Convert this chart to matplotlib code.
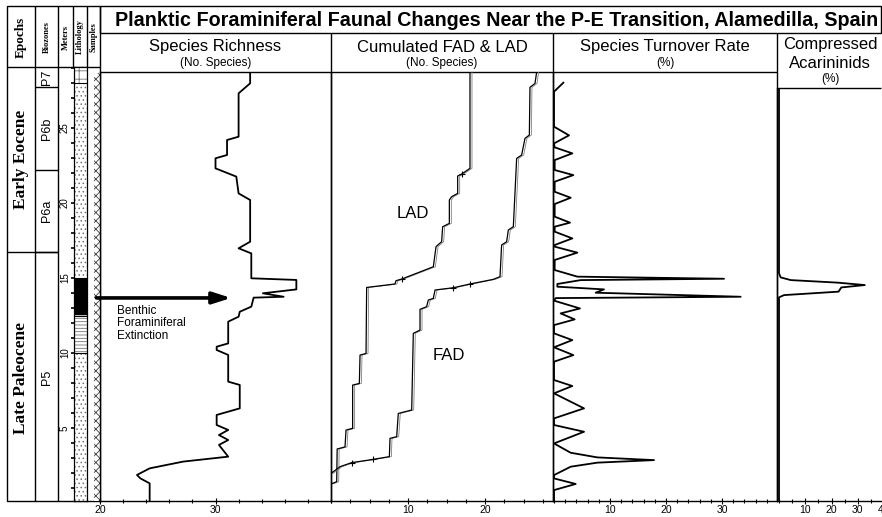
import matplotlib.pyplot as plt
import matplotlib.transforms as mtransforms
from matplotlib.patches import Rectangle
from matplotlib.ticker import MultipleLocator, FixedLocator

plt.rcParams['font.family'] = ['Liberation Sans', 'DejaVu Sans']
plt.rcParams['hatch.linewidth'] = 0.6

W, H = 882, 517

# ---------------- data (depth in meters) ----------------
title = "Planktic Foraminiferal Faunal Changes Near the P-E Transition, Alamedilla, Spain"

epochs = ["Late Paleocene", "Early Eocene"]
epoch_base = [0.0, 16.7]
epoch_top = [16.7, 29.07]

biozones = ["P5", "P6a", "P6b", "P7"]
zone_base = [0.0, 16.7, 22.2, 27.7]
zone_top = [16.7, 22.2, 27.7, 29.07]

litho_base = [0.0, 10.0, 12.5, 15.0, 28.0]
litho_top = [10.0, 12.5, 15.0, 28.0, 29.07]
litho_hatch = ["....", "-----", None, "....", "++"]
litho_fill = ["white", "white", "black", "white", "white"]

# species richness
sr_depth = [28.73, 27.98, 27.31, 24.42, 24.2, 23.2, 22.98, 22.31, 21.76, 20.64, 20.2,
            17.42, 16.98, 16.64, 14.98, 14.87, 14.24, 13.98, 13.75, 13.69, 13.09, 12.75,
            12.42, 12.09, 10.64, 10.42, 10.2, 9.87, 8.09, 7.87, 6.31, 5.87, 5.2, 4.87,
            4.53, 4.2, 3.87, 3.09, 2.76, 2.31, 1.87, 1.64, 1.31, 0.13]
sr_count = [33.0, 33.0, 32.0, 32.0, 31.0, 31.0, 30.0, 30.0, 31.8, 32.0, 33.0,
            33.0, 32.0, 33.1, 33.1, 37.0, 37.0, 34.1, 35.9, 33.3, 33.1, 32.1,
            32.0, 31.1, 31.1, 30.1, 30.1, 31.1, 31.1, 32.1, 32.1, 30.1, 30.1, 31.1,
            30.3, 31.1, 30.3, 31.1, 27.2, 24.3, 23.2, 23.5, 24.3, 24.3]

# cumulated last / first appearances
lad_depth = [28.73, 22.31, 21.93, 21.8, 20.64, 20.42, 20.2, 18.64, 18.42, 17.42, 17.09,
             15.75, 14.93, 14.82, 14.6, 14.37, 9.97, 9.86, 7.97, 7.86, 4.98, 4.86,
             3.74, 3.6, 1.42, 1.27]
lad_n = [18.05, 18.05, 16.97, 16.45, 16.45, 15.67, 15.37, 15.37, 14.5, 14.37, 13.64,
         13.29, 9.18, 8.44, 8.31, 4.63, 4.55, 3.77, 3.68, 2.81, 2.81, 1.95,
         1.82, 0.8, 0.74, 0.0]
lad_marks = [2, 12]

fad_depth = [28.73, 27.97, 27.71, 24.53, 24.31, 23.2, 22.97, 18.42, 18.2, 17.42, 17.2,
             15.09, 14.91, 14.6, 14.35, 14.2, 13.64, 13.53, 13.09, 12.91, 11.53, 11.31,
             6.2, 5.97, 4.42, 4.31, 3.09, 2.91, 2.69, 2.42, 1.97]
fad_n = [26.71, 26.49, 25.84, 25.76, 25.19, 24.76, 24.11, 23.68, 23.03, 22.81, 22.16,
         21.95, 21.08, 18.05, 15.89, 13.51, 13.29, 12.64, 12.42, 11.56, 11.56, 10.69,
         10.48, 8.74, 8.53, 7.66, 7.58, 5.5, 2.68, 1.17, 0.0]
fad_marks = [13, 14, 27, 28]

# species turnover rate (%)
to_depth = [28.02, 27.42, 25.09, 24.51, 23.97, 23.71, 23.31, 22.86, 22.2, 21.86,
            21.42, 20.75, 20.35, 19.93, 19.09, 18.69, 18.42, 18.09, 17.64, 17.2,
            17.09, 16.69, 16.2, 15.53, 15.09, 14.95, 14.86, 14.6, 14.42, 14.24,
            14.02, 13.75, 13.66, 13.49, 12.97, 12.64, 12.24, 11.86, 11.31, 10.86,
            10.38, 9.86, 9.42, 8.2, 7.8, 7.31, 6.31, 5.64, 5.2, 4.75,
            3.97, 3.35, 3.04, 2.86, 2.69, 2.42, 1.86, 1.64, 1.27, 0.86, 0.13]
to_pct = [1.67, 0, 0, 2.68, 0, 0.12, 3.27, 0.12, 0.12, 3.45,
          0.12, 0.12, 2.98, 0.12, 0.12, 2.86, 0.12, 0.12, 3.27, 0.12,
          0.12, 4.17, 0.12, 0.12, 4.17, 30.36, 4.76, 0.6, 0.6, 8.93,
          7.44, 33.33, 0.3, 0, 4.64, 1.19, 3.69, 0, 0, 3.27,
          0, 3.45, 0, 0, 3.27, 0, 5.36, 0, 0, 5.36,
          0, 2.98, 7.74, 17.86, 7.74, 2.98, 0, 0, 3.87, 0, 0]

# compressed acarininids (%)
ac_depth = [27.67, 15.31, 15.04, 14.86, 14.69, 14.53, 14.37, 14.09, 13.86, 13.71, 0.13]
ac_pct = [0, 0, 0.64, 4.49, 22.44, 32.69, 23.72, 22.69, 1.92, 0, 0]

bfe_depth = 13.67   # benthic foraminiferal extinction level


# ---------------- layout helpers ----------------
def box(x0, y0, x1, y1):
    return [x0 / W, 1 - y1 / H, (x1 - x0) / W, (y1 - y0) / H]


def depth(y):
    return (503 - y) / 15.0


fig = plt.figure(figsize=(W / 100, H / 100), dpi=100)

bg = fig.add_axes([0, 0, 1, 1])
bg.set_xlim(0, W)
bg.set_ylim(H, 0)
bg.axis('off')
lk = dict(color='k', lw=1.0, solid_capstyle='butt')

# title box
bg.plot([100, 881, 881, 100, 100], [6, 6, 33, 33, 6], **lk)
bg.text(497, 20, title, ha='center', va='center', fontsize=14.2, fontweight='bold')
# panel header row
bg.plot([100, 777], [72, 72], **lk)
bg.plot([777, 881], [88, 88], **lk)
for x in (331, 553, 777):
    bg.plot([x, x], [33, 501], **lk)
bg.text(215.5, 47, "Species Richness", ha='center', va='center', fontsize=12)
bg.text(215.5, 63, "(No. Species)", ha='center', va='center', fontsize=8.5)
bg.text(442, 47, "Cumulated FAD & LAD", ha='center', va='center', fontsize=12)
bg.text(442, 63, "(No. Species)", ha='center', va='center', fontsize=8.5)
bg.text(665, 47, "Species Turnover Rate", ha='center', va='center', fontsize=12)
bg.text(665, 63, "(%)", ha='center', va='center', fontsize=8.5)
bg.text(830, 45, "Compressed", ha='center', va='center', fontsize=12)
bg.text(830, 63, "Acarininids", ha='center', va='center', fontsize=12)
bg.text(830, 79, "(%)", ha='center', va='center', fontsize=8.5)

# left table frame
bg.plot([7, 100, 100, 7, 7], [6, 6, 501, 501, 6], **lk)
bg.plot([7, 100], [67, 67], **lk)
for x in (35, 58):
    bg.plot([x, x], [6, 501], **lk)
for x in (73, 87):
    bg.plot([x, x], [6, 67], **lk)
serif = ['Liberation Serif', 'DejaVu Serif']
bg.text(21, 37, "Epochs", rotation=90, ha='center', va='center', fontsize=9.5,
        fontweight='bold', family=serif)
for x, lab in [(46.5, "Biozones"), (65.5, "Meters"), (80, "Lithology"), (93.5, "Samples")]:
    bg.text(x, 37, lab, rotation=90, ha='center', va='center', fontsize=6,
            fontweight='bold', family=serif)

# epochs / biozones column
left = fig.add_axes(box(0, 67, 100, 501))
left.set_facecolor('none')
left.axis('off')
left.set_xlim(0, 100)
left.set_ylim(depth(501), depth(67))
left.hlines(epoch_base[1:], 7, 58, color='k', lw=1.0)
left.hlines(zone_base[1:], 35, 58, color='k', lw=1.0)
for name, b, t in zip(epochs, epoch_base, epoch_top):
    left.text(21, (b + t) / 2, name, rotation=90, ha='center', va='center',
              fontsize=12.5, fontweight='bold', family=serif)
for name, b, t in zip(biozones, zone_base, zone_top):
    left.text(47, (b + t) / 2, name, rotation=90, ha='center', va='center', fontsize=9)
left.add_patch(Rectangle((94, depth(501)), 6, depth(73) - depth(501), facecolor='white',
                         edgecolor='0.25', hatch='xxxx', lw=0))

# lithology column with meter scale
lith = fig.add_axes(box(74, 67, 87, 501))
lith.set_xlim(0, 1)
lith.set_ylim(depth(501), depth(67))
for b, t, h, fc in zip(litho_base, litho_top, litho_hatch, litho_fill):
    lith.add_patch(Rectangle((0, b), 1, t - b, facecolor=fc, edgecolor='0.45',
                             hatch=h, lw=0))
lith.hlines(litho_base[1:], 0, 1, color='k', lw=0.8)
lith.set_xticks([])
lith.yaxis.set_major_locator(FixedLocator([5, 10, 15, 20, 25]))
lith.yaxis.set_minor_locator(MultipleLocator(1))
lith.tick_params(axis='y', which='both', direction='out', length=2, width=1.2, labelsize=7, pad=1)
for lab in lith.get_yticklabels():
    lab.set_rotation(90)
    lab.set_va('center')
for s in lith.spines.values():
    s.set_linewidth(0.9)


# ---------------- data panels ----------------
def panel(x0, x1, y0, xlim, major, minor):
    ax = fig.add_axes(box(x0, y0, x1, 501))
    ax.set_facecolor('none')
    for s in ('top', 'right'):
        ax.spines[s].set_visible(False)
    ax.spines['left'].set_linewidth(1.0)
    ax.spines['bottom'].set_linewidth(1.0)
    ax.set_ylim(depth(501), depth(y0))
    ax.set_xlim(*xlim)
    ax.set_yticks([])
    ax.xaxis.set_major_locator(FixedLocator(major))
    ax.xaxis.set_minor_locator(MultipleLocator(minor))
    ax.tick_params(axis='x', which='major', direction='inout', length=4, width=0.8,
                   labelsize=7.5, pad=1)
    ax.tick_params(axis='x', which='minor', direction='inout', length=2.5, width=0.8)
    return ax


ax_sr = panel(100, 331, 72, (20, 40), [20, 30], 2)
ax_sr.plot(sr_count, sr_depth, color='k', lw=1.3)
blend = mtransforms.blended_transform_factory(ax_sr.transAxes, ax_sr.transData)
ax_sr.annotate('', xy=(0.568, bfe_depth), xytext=(-0.015, bfe_depth),
               xycoords=blend, textcoords=blend, annotation_clip=False,
               arrowprops=dict(arrowstyle='-|>,head_length=1.1,head_width=0.35',
                               color='k', lw=2.6, shrinkA=0, shrinkB=0))
ax_sr.text(0.072, bfe_depth - 0.45, "Benthic\nForaminiferal\nExtinction", transform=blend,
           ha='left', va='top', fontsize=8.5, linespacing=1.05)

ax_cum = panel(331, 553, 72, (0, 222 / 7.7), [10, 20], 2.5)
shift = mtransforms.offset_copy(ax_cum.transData, fig=fig, x=2, y=0, units='dots')
for n, d, mk in ((lad_n, lad_depth, lad_marks), (fad_n, fad_depth, fad_marks)):
    ax_cum.plot(n, d, color='0.5', lw=0.6, transform=shift)
    ax_cum.plot(n, d, color='k', lw=0.9, marker='+', markersize=5, markevery=mk,
                markeredgewidth=0.8)
ax_cum.text(413, 214, "LAD", transform=bg.transData, ha='center', va='center', fontsize=12)
ax_cum.text(449, 355, "FAD", transform=bg.transData, ha='center', va='center', fontsize=12)

ax_to = panel(553, 777, 72, (-1 / 5.6, 223 / 5.6), [10, 20, 30], 2)
ax_to.plot(to_pct, to_depth, color='k', lw=1.3)

ax_ac = panel(777, 884, 88, (-2 / 2.6, 40), [10, 20, 30, 40], 5)
ax_ac.plot(ac_pct, ac_depth, color='k', lw=1.3)

fig.savefig("out.png", dpi=100)
